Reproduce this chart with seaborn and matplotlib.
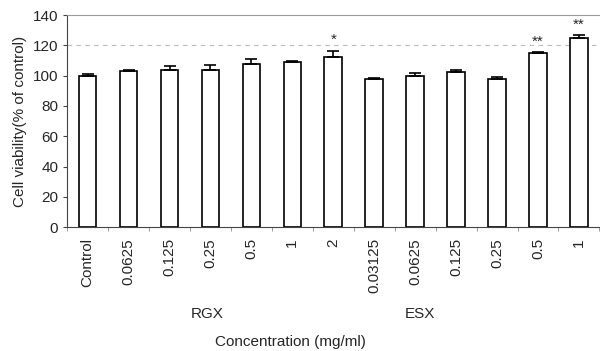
import numpy as np
import pandas as pd
import seaborn as sns
import matplotlib.pyplot as plt

# values
labels = ["Control", "0.0625", "0.125", "0.25", "0.5", "1", "2",
          "0.03125", "0.0625", "0.125", "0.25", "0.5", "1"]
viability = [99.7, 103.0, 104.0, 104.0, 108.0, 108.8, 112.5,
             97.8, 100.0, 102.4, 97.8, 114.7, 124.6]
sd = [1.3, 0.7, 2.3, 3.0, 3.0, 0.6, 3.8,
      0.7, 1.5, 1.5, 1.5, 0.6, 2.0]
stars = ["", "", "", "", "", "", "*", "", "", "", "", "**", "**"]
groups = ["RGX", "ESX"]
group_pos = [0.263, 0.662]

sns.set_style("white")
plt.rcParams['font.family'] = ['Liberation Sans', 'DejaVu Sans']

df = pd.DataFrame({"pos": [f"{i}" for i in range(len(labels))], "value": viability})

fig, ax = plt.subplots(figsize=(6, 3.51), dpi=100)
fig.subplots_adjust(left=0.112, right=0.999, top=0.957, bottom=0.353)

ax.axhline(120, color="#bbbbbb", lw=0.8, ls=(0, (4, 4)), zorder=0)

sns.barplot(data=df, x="pos", y="value", ax=ax, color="white",
            edgecolor="black", linewidth=1.2, width=0.43, zorder=2)
x = np.arange(len(labels))
ax.errorbar(x, viability, yerr=[np.zeros(len(sd)), sd], fmt="none",
            ecolor="black", elinewidth=1.2, capsize=4, capthick=1.2, zorder=3)
for i, s in enumerate(stars):
    if s:
        ax.text(i, viability[i] + sd[i] + 2.5, s, ha="center", va="bottom", fontsize=11)

ax.set_xlim(-0.5, len(labels) - 0.5)
ax.set_ylim(0, 140)
ax.set_yticks(range(0, 141, 20))
ax.set_xticks(x)
ax.set_xticklabels(labels, rotation=90, fontsize=11)
ax.tick_params(axis="x", length=0, pad=8)
ax.set_xticks(np.arange(-0.5, len(labels)), minor=True)
ax.tick_params(axis="x", which="minor", length=3, direction="out", color="#888888", bottom=True)
ax.tick_params(axis="y", labelsize=11, length=3, direction="out", left=True, color="#444444")

ax.set_xlabel("")
ax.set_ylabel("Cell viability(% of control)", fontsize=11)
for g, p in zip(groups, group_pos):
    ax.text(p, -0.41, g, transform=ax.transAxes, ha="center", va="center", fontsize=11)
ax.text(0.42, -0.54, "Concentration (mg/ml)", transform=ax.transAxes,
        ha="center", va="center", fontsize=11)

for side in ["left", "bottom"]:
    ax.spines[side].set_color("#444444")
ax.spines["top"].set_color("#999999")
ax.spines["right"].set_visible(False)

fig.savefig("out.png", dpi=100)
